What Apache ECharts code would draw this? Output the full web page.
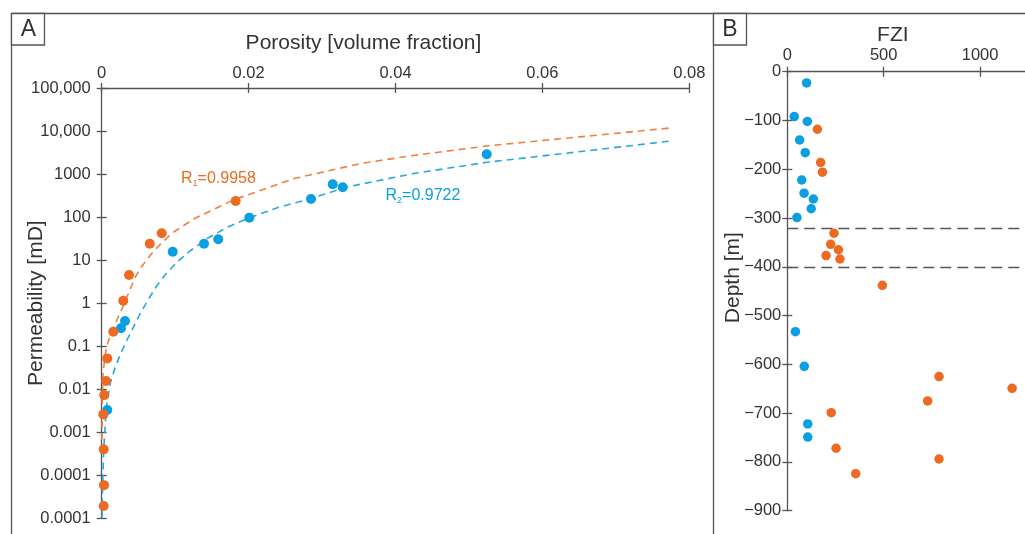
<!DOCTYPE html>
<html><head><meta charset="utf-8">
<script src="https://cdn.jsdelivr.net/npm/echarts@6/dist/echarts.min.js"></script>
<style>html,body{margin:0;padding:0;background:#fff}#c{width:1025px;height:534px}</style>
</head><body><div id="c"></div>
<script>
// ---------- Panel A: porosity vs permeability ----------
const porosityBlue = [0.00076, 0.00263, 0.00317, 0.00967, 0.01393, 0.01587, 0.0201, 0.0285, 0.03145, 0.03281, 0.05242];
const permBlue     = [0.0033, 0.26, 0.385, 15.7, 24, 30.5, 97, 263, 578, 492, 2878];
const porosityOrange = [0.00027, 0.00031, 0.00027, 0.00022, 0.00035, 0.00059, 0.00076, 0.00158, 0.00294, 0.00372, 0.00654, 0.00817, 0.01824];
const permOrange     = [0.0000193, 0.000059, 0.0004, 0.0026, 0.0073, 0.0155, 0.052, 0.217, 1.14, 4.5, 24, 42, 237];
// dashed fit curves
const fitOrangePorosity = [0.000027, 0.000082, 0.000177, 0.00045, 0.00086, 0.0014, 0.00208, 0.0030, 0.00372, 0.00457, 0.00549, 0.00708, 0.00953, 0.0127, 0.01815, 0.02632, 0.0354, 0.0422, 0.0524, 0.0678, 0.0778];
const fitOrangePerm     = [0.00066, 0.0056, 0.0214, 0.0624, 0.125, 0.214, 0.406, 0.906, 1.82, 4.05, 7.3, 16.3, 42, 93.8, 259, 796, 1778, 2673, 4487, 8128, 11940];
const fitBluePorosity = [0.00004, 0.000136, 0.000272, 0.00049, 0.00072, 0.00117, 0.00181, 0.00249, 0.00331, 0.00413, 0.00521, 0.0063, 0.00739, 0.00862, 0.01012, 0.01202, 0.01447, 0.0172, 0.01992, 0.02401, 0.02809, 0.03354, 0.04266, 0.05242, 0.06784, 0.07782];
const fitBluePerm     = [0.0000105, 0.000066, 0.000386, 0.00164, 0.0048, 0.0139, 0.0311, 0.0624, 0.125, 0.238, 0.56, 1.18, 2.37, 4.5, 8.6, 16.3, 32.7, 58.9, 93.8, 167, 259, 508, 1042, 1877, 3758, 5957];
const permTickLabels = ['0.0001', '0.0001', '0.001', '0.01', '0.1', '1', '10', '100', '1000', '10,000', '100,000'];
const porosityTickLabels = ['0', '0.02', '0.04', '0.06', '0.08'];
const fitLabelOrange = ['R', '1', '=0.9958'];
const fitLabelBlue = ['R', '2', '=0.9722'];

// ---------- Panel B: FZI vs depth ----------
const fziBlue   = [100, 36, 104, 64, 93, 75, 87, 135, 124, 50, 42, 88, 106, 106];
const depthBlue = [-23, -92, -102, -140, -166, -222, -249, -261, -281, -299, -533, -604, -722, -749];
const fziOrange   = [156, 173, 182, 242, 225, 265, 201, 273, 493, 787, 1166, 728, 228, 253, 787, 355];
const depthOrange = [-118, -186, -206, -331, -354, -365, -377, -384, -438, -625, -649, -675, -699, -772, -794, -824];
const fziTicks = [0, 500, 1000];
const boundaryDepths = [-320, -400];

const BLUE = '#0a9fe0', ORANGE = '#ec6a22';
const BLUE_LINE = '#2aa7df', ORANGE_LINE = '#f0803f';
const AX = '#555', TXT = '#333';
const FONT = '"Liberation Sans", Arial, Helvetica, sans-serif';

const zip = (a, b) => a.map((v, i) => [v, b[i]]);

const axisLineStyle = { color: AX, width: 1.3 };

function baseAxis(extra) {
  return Object.assign({
    splitLine: { show: false },
    axisLine: { show: true, lineStyle: axisLineStyle },
    axisTick: { show: true, length: 5, lineStyle: axisLineStyle },
    nameMoveOverlap: false,
  }, extra);
}
// a label-less twin axis shifted 5px into the plot, whose outward ticks
// make the ticks of the main axis cross the axis line
function innerTicks(extra) {
  return Object.assign({
    offset: -5,
    splitLine: { show: false },
    axisLine: { show: false },
    axisLabel: { show: false },
    axisTick: { show: true, length: 5, lineStyle: axisLineStyle },
  }, extra);
}
const nameStyle = (pad) => ({ fontFamily: FONT, fontSize: 21, color: TXT, padding: pad });

const chart = echarts.init(document.getElementById('c'), null, { renderer: 'canvas' });

const xA = { gridIndex: 0, type: 'value', position: 'top', min: 0, max: 0.08, interval: 0.02 };
const yA = { gridIndex: 0, type: 'log', logBase: 10, position: 'left', min: 0.00001, max: 100000, interval: 1, splitNumber: 10 };
const xB = { gridIndex: 1, type: 'value', position: 'top', min: 0, max: 1250, interval: 500 };
const yB = { gridIndex: 1, type: 'value', position: 'left', min: -900, max: 0, interval: 100 };

const LABEL = { fontFamily: FONT, fontSize: 16.5, color: TXT };

const option = {
  animation: false,
  backgroundColor: '#fff',
  textStyle: { fontFamily: FONT },
  grid: [
    { left: 101.7, top: 88, width: 587.6, height: 430.3, outerBoundsMode: 'none', containLabel: false },
    { left: 787.3, top: 71.7, width: 241, height: 439, outerBoundsMode: 'none', containLabel: false }
  ],
  xAxis: [
    baseAxis(Object.assign({}, xA, {
      name: 'Porosity [volume fraction]', nameLocation: 'middle', nameGap: 34,
      nameTextStyle: nameStyle([0, 64, 0, 0]),
      axisLabel: Object.assign({}, LABEL, { margin: 6,
        formatter: v => porosityTickLabels[Math.round(v / 0.02)] })
    })),
    innerTicks(Object.assign({}, xA)),
    baseAxis(Object.assign({}, xB, {
      name: 'FZI', nameLocation: 'middle', nameGap: 26,
      nameTextStyle: nameStyle([0, 30, 0, 0]),
      axisTick: { show: true, length: 5, lineStyle: axisLineStyle, customValues: fziTicks },
      axisLabel: Object.assign({}, LABEL, { margin: 8, customValues: fziTicks, formatter: v => String(v) })
    })),
    innerTicks(Object.assign({}, xB, {
      axisTick: { show: true, length: 5, lineStyle: axisLineStyle, customValues: fziTicks }
    }))
  ],
  yAxis: [
    baseAxis(Object.assign({}, yA, {
      name: 'Permeability [mD]', nameLocation: 'middle', nameRotate: 90, nameGap: 55,
      nameTextStyle: nameStyle([0, 0, 0, 0]),
      axisLabel: Object.assign({}, LABEL, { margin: 11,
        formatter: v => permTickLabels[Math.round(Math.log10(v)) + 5] })
    })),
    innerTicks(Object.assign({}, yA)),
    baseAxis(Object.assign({}, yB, {
      name: 'Depth [m]', nameLocation: 'middle', nameRotate: 90, nameGap: 44,
      nameTextStyle: nameStyle([0, 0, 0, 27]),
      axisLabel: Object.assign({}, LABEL, { margin: 6,
        formatter: v => (v === 0 ? '0' : '\u2212' + Math.abs(v)) })
    })),
    innerTicks(Object.assign({}, yB))
  ],
  series: [
    { type: 'line', xAxisIndex: 0, yAxisIndex: 0, data: zip(fitOrangePorosity, fitOrangePerm),
      showSymbol: false, smooth: false, z: 2, silent: true,
      lineStyle: { color: ORANGE_LINE, width: 1.6, type: [7, 5] } },
    { type: 'line', xAxisIndex: 0, yAxisIndex: 0, data: zip(fitBluePorosity, fitBluePerm),
      showSymbol: false, smooth: false, z: 2, silent: true,
      lineStyle: { color: BLUE_LINE, width: 1.6, type: [7, 5] } },
    { type: 'scatter', xAxisIndex: 0, yAxisIndex: 0, data: zip(porosityBlue, permBlue),
      symbolSize: 10, itemStyle: { color: BLUE, opacity: 1 }, z: 4 },
    { type: 'scatter', xAxisIndex: 0, yAxisIndex: 0, data: zip(porosityOrange, permOrange),
      symbolSize: 10, itemStyle: { color: ORANGE, opacity: 1 }, z: 4 },
    { type: 'scatter', xAxisIndex: 2, yAxisIndex: 2, data: zip(fziBlue, depthBlue),
      symbolSize: 9.5, itemStyle: { color: BLUE, opacity: 1 }, z: 4,
      markLine: { silent: true, symbol: 'none', label: { show: false },
        lineStyle: { color: '#555', width: 1.3, type: [11, 6] },
        data: boundaryDepths.map(d => ({ yAxis: d })) } },
    { type: 'scatter', xAxisIndex: 2, yAxisIndex: 2, data: zip(fziOrange, depthOrange),
      symbolSize: 9.5, itemStyle: { color: ORANGE, opacity: 1 }, z: 4 }
  ],
  graphic: [
    { type: 'line', shape: { x1: 11.5, y1: 13.5, x2: 1025, y2: 13.5 }, style: { stroke: AX, lineWidth: 1.3 }, z: 10 },
    { type: 'line', shape: { x1: 11.5, y1: 13.5, x2: 11.5, y2: 534 }, style: { stroke: AX, lineWidth: 1.3 }, z: 10 },
    { type: 'line', shape: { x1: 713.5, y1: 13.5, x2: 713.5, y2: 534 }, style: { stroke: AX, lineWidth: 1.3 }, z: 10 },
    { type: 'rect', shape: { x: 11.5, y: 13.5, width: 33, height: 31.5 }, style: { fill: '#fff', stroke: AX, lineWidth: 1.3 }, z: 10 },
    { type: 'rect', shape: { x: 713.5, y: 13.5, width: 33, height: 31.5 }, style: { fill: '#fff', stroke: AX, lineWidth: 1.3 }, z: 10 },
    { type: 'text', x: 28.5, y: 30, z: 11, style: { text: 'A', fill: TXT, font: '23px ' + FONT, align: 'center', verticalAlign: 'middle' } },
    { type: 'text', x: 730, y: 30, z: 11, style: { text: 'B', fill: TXT, font: '23px ' + FONT, align: 'center', verticalAlign: 'middle' } },
    { type: 'text', x: 181, y: 179, z: 11, style: {
        text: '{a|' + fitLabelOrange[0] + '}{s|' + fitLabelOrange[1] + '}{a|' + fitLabelOrange[2] + '}',
        verticalAlign: 'middle', align: 'left', fill: ORANGE,
        rich: { a: { fontFamily: FONT, fontSize: 16, fill: ORANGE, color: ORANGE, lineHeight: 18 },
                s: { fontFamily: FONT, fontSize: 9, fill: ORANGE, color: ORANGE, verticalAlign: 'bottom', lineHeight: 10 } } } },
    { type: 'text', x: 385.5, y: 196, z: 11, style: {
        text: '{a|' + fitLabelBlue[0] + '}{s|' + fitLabelBlue[1] + '}{a|' + fitLabelBlue[2] + '}',
        verticalAlign: 'middle', align: 'left', fill: BLUE,
        rich: { a: { fontFamily: FONT, fontSize: 16, fill: BLUE, color: BLUE, lineHeight: 18 },
                s: { fontFamily: FONT, fontSize: 9, fill: BLUE, color: BLUE, verticalAlign: 'bottom', lineHeight: 10 } } } }
  ]
};
chart.setOption(option);
</script>
</body></html>
